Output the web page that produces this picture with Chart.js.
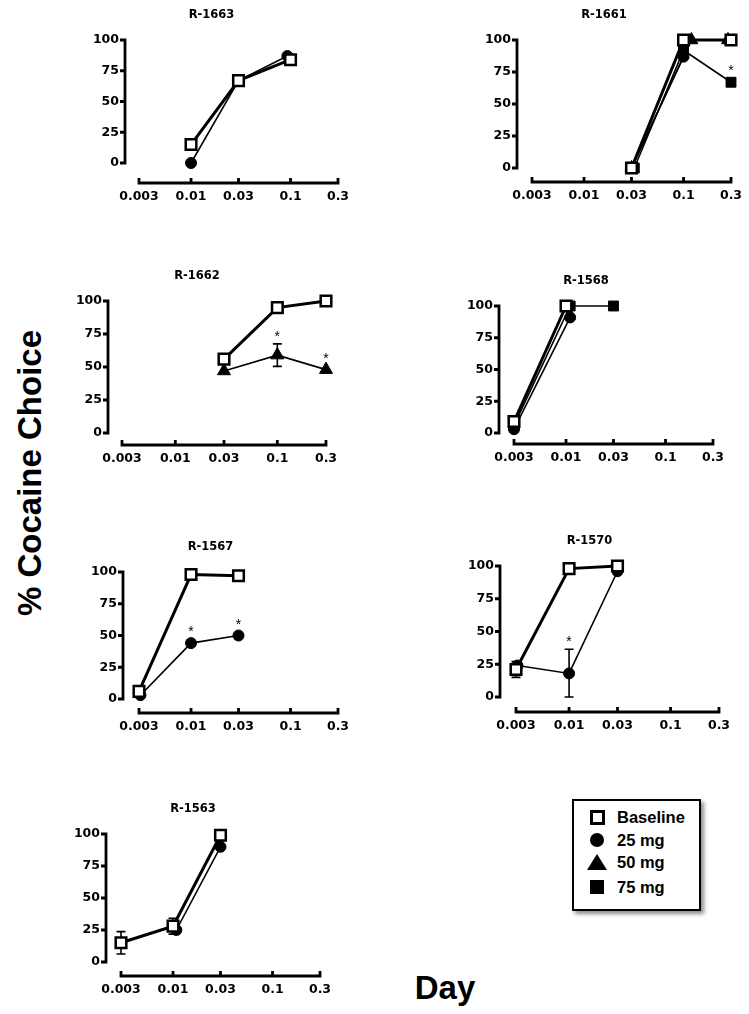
<!DOCTYPE html>
<html>
<head>
<meta charset="utf-8">
<script src="https://cdn.jsdelivr.net/npm/chart.js@4.4.0/dist/chart.umd.min.js"></script>
<style>
  body { margin: 0; background: #fff; width: 749px; height: 1014px; position: relative; overflow: hidden;
         font-family: "Liberation Sans", Arial, sans-serif; color: #000; }
  canvas { position: absolute; }
  .big { position: absolute; font-weight: bold; font-size: 33px; white-space: nowrap; }
  #ylab { left: 30px; top: 473px; transform: translate(-50%, -50%) rotate(-90deg); }
  #xlab { left: 445px; top: 988px; transform: translate(-50%, -50%); }
  #legend { position: absolute; left: 572px; top: 799px; width: 129px; height: 112px; box-sizing: border-box;
            border: 2px solid #000; background: #fff; box-shadow: 3px 3px 4px rgba(0,0,0,0.45); }
  .item { position: absolute; left: 43px; font-weight: bold; font-size: 16.5px; line-height: 18px; }
  .mk { position: absolute; box-sizing: border-box; }
</style>
</head>
<body>
<div class="big" id="ylab">% Cocaine Choice</div>
<div class="big" id="xlab">Day</div>
<div id="legend"></div>
<script>
// tick labels
const doseTicks = [0.003, 0.01, 0.03, 0.1, 0.3];
const choiceTicks = [0, 25, 50, 75, 100];
const seriesNames = ['Baseline', '25 mg', '50 mg', '75 mg'];

// R-1663
const r1663Base = [{x: 0.01, y: 15}, {x: 0.03, y: 67}, {x: 0.1, y: 84}];
const r1663BaseErr = [0, 0, 4];
const r1663Mg25 = [{x: 0.01, y: 0}, {x: 0.03, y: 67}, {x: 0.093, y: 87}];

// R-1661
const r1661Base = [{x: 0.03, y: 0}, {x: 0.1, y: 100}, {x: 0.3, y: 100}];
const r1661Mg25 = [{x: 0.03, y: 0}, {x: 0.1, y: 87}];
const r1661Mg50 = [{x: 0.03, y: 0}, {x: 0.12, y: 100}, {x: 0.28, y: 100}];
const r1661Mg75 = [{x: 0.032, y: 0}, {x: 0.1, y: 92}, {x: 0.3, y: 67}];
const r1661Mg75Stars = [0, 0, 1];

// R-1662
const r1662Base = [{x: 0.03, y: 56}, {x: 0.1, y: 95}, {x: 0.3, y: 100}];
const r1662Mg50 = [{x: 0.03, y: 47}, {x: 0.1, y: 59}, {x: 0.3, y: 48}];
const r1662Mg50Err = [0, 8.5, 0];
const r1662Mg50Stars = [0, 1, 1];

// R-1568
const r1568Base = [{x: 0.003, y: 9}, {x: 0.01, y: 100}];
const r1568Mg25 = [{x: 0.003, y: 3}, {x: 0.011, y: 91}];
const r1568Mg75 = [{x: 0.003, y: 6}, {x: 0.011, y: 100}, {x: 0.03, y: 100}];

// R-1567
const r1567Base = [{x: 0.003, y: 6}, {x: 0.01, y: 98}, {x: 0.03, y: 97}];
const r1567Mg25 = [{x: 0.0031, y: 3}, {x: 0.01, y: 44}, {x: 0.03, y: 50}];
const r1567Mg25Stars = [0, 1, 1];

// R-1570
const r1570Base = [{x: 0.003, y: 21}, {x: 0.01, y: 98}, {x: 0.03, y: 100}];
const r1570BaseErr = [6, 0, 0];
const r1570Mg25 = [{x: 0.0031, y: 24}, {x: 0.01, y: 18}, {x: 0.03, y: 96}];
const r1570Mg25Err = [0, 18.5, 0];
const r1570Mg25Stars = [0, 1, 0];

// R-1563
const r1563Base = [{x: 0.003, y: 15}, {x: 0.01, y: 28}, {x: 0.03, y: 99}];
const r1563BaseErr = [8.7, 6.2, 0];
const r1563Mg25 = [{x: 0.0108, y: 25}, {x: 0.03, y: 90}];

const AXIS_W = 40, XAXIS_H = 28, TITLE_H = 36;
const tickFont = {family: 'DejaVu Sans', weight: 'bold', size: 12.5};

function baseline(data, errs, stars) {
  return {label: seriesNames[0], data, errs, stars, borderColor: '#000', borderWidth: 3,
    pointStyle: 'rect', pointRadius: 7.5, pointBackgroundColor: '#fff', pointBorderColor: '#000', pointBorderWidth: 2.5};
}
function drug(idx, data, errs, stars) {
  const styles = ['circle', 'triangle', 'rect'];
  const radius = [5.5, 7.5, 7];
  return {label: seriesNames[idx], data, errs, stars, borderColor: '#000', borderWidth: 1.6,
    pointStyle: styles[idx - 1], pointRadius: radius[idx - 1], pointBackgroundColor: '#000',
    pointBorderColor: '#000', pointBorderWidth: 1};
}

// chart area boxes (pixels in the page): left = y axis, right = x of 0.3, top = y of 100,
// zero = y of 0, bottom = x axis line, first = x of 0.003
const panels = [
  {title: 'R-1663', box: {left: 125, right: 338, top: 40, zero: 163, bottom: 183, first: 139},
   sets: [baseline(r1663Base, r1663BaseErr), drug(1, r1663Mg25)]},
  {title: 'R-1661', box: {left: 517, right: 731, top: 40, zero: 168, bottom: 182, first: 532},
   sets: [baseline(r1661Base), drug(1, r1661Mg25), drug(2, r1661Mg50), drug(3, r1661Mg75, null, r1661Mg75Stars)]},
  {title: 'R-1662', box: {left: 108, right: 326, top: 301, zero: 433, bottom: 445, first: 122},
   sets: [baseline(r1662Base), drug(2, r1662Mg50, r1662Mg50Err, r1662Mg50Stars)]},
  {title: 'R-1568', box: {left: 499, right: 713, top: 306, zero: 433, bottom: 444, first: 514},
   sets: [baseline(r1568Base), drug(1, r1568Mg25), drug(3, r1568Mg75)]},
  {title: 'R-1567', box: {left: 123, right: 338, top: 572, zero: 699, bottom: 713, first: 139},
   sets: [baseline(r1567Base), drug(1, r1567Mg25, null, r1567Mg25Stars)]},
  {title: 'R-1570', box: {left: 500, right: 719, top: 566, zero: 697, bottom: 712, first: 516},
   sets: [baseline(r1570Base, r1570BaseErr), drug(1, r1570Mg25, r1570Mg25Err, r1570Mg25Stars)]},
  {title: 'R-1563', box: {left: 106, right: 320, top: 834, zero: 962, bottom: 976, first: 121},
   sets: [baseline(r1563Base, r1563BaseErr), drug(1, r1563Mg25)]}
];

// prism style axes that stop at the first and last tick, plus error bars and asterisks
const prismAxes = {
  id: 'prismAxes',
  beforeDatasetsDraw(chart) {
    const {ctx, chartArea, scales: {x, y}} = chart;
    ctx.save();
    ctx.strokeStyle = '#000';
    ctx.lineWidth = 2.8;
    ctx.beginPath();
    ctx.moveTo(chartArea.left, y.getPixelForValue(0) + 1.4);
    ctx.lineTo(chartArea.left, y.getPixelForValue(100) - 1.4);
    choiceTicks.forEach(v => {
      const py = y.getPixelForValue(v);
      ctx.moveTo(chartArea.left - 5, py);
      ctx.lineTo(chartArea.left, py);
    });
    ctx.moveTo(x.getPixelForValue(doseTicks[0]) - 1.4, chartArea.bottom);
    ctx.lineTo(x.getPixelForValue(doseTicks[doseTicks.length - 1]) + 1.4, chartArea.bottom);
    doseTicks.forEach(v => {
      const px = x.getPixelForValue(v);
      ctx.moveTo(px, chartArea.bottom);
      ctx.lineTo(px, chartArea.bottom - 5);
    });
    ctx.stroke();

    ctx.lineWidth = 1.6;
    chart.data.datasets.forEach(ds => {
      if (!ds.errs) return;
      ds.data.forEach((pt, i) => {
        const e = ds.errs[i];
        if (!e) return;
        const px = x.getPixelForValue(pt.x);
        const top = y.getPixelForValue(pt.y + e);
        const bot = y.getPixelForValue(Math.max(pt.y - e, 0));
        ctx.beginPath();
        ctx.moveTo(px, top); ctx.lineTo(px, bot);
        ctx.moveTo(px - 4.5, top); ctx.lineTo(px + 4.5, top);
        ctx.moveTo(px - 4.5, bot); ctx.lineTo(px + 4.5, bot);
        ctx.stroke();
      });
    });
    ctx.restore();
  },
  afterDatasetsDraw(chart) {
    const {ctx, scales: {x, y}} = chart;
    ctx.save();
    ctx.fillStyle = '#000';
    ctx.font = '14px "Liberation Sans"';
    ctx.textAlign = 'center';
    ctx.textBaseline = 'alphabetic';
    chart.data.datasets.forEach(ds => {
      if (!ds.stars) return;
      ds.data.forEach((pt, i) => {
        if (!ds.stars[i]) return;
        const e = ds.errs ? ds.errs[i] : 0;
        const py = e ? y.getPixelForValue(pt.y + e) - 11 : y.getPixelForValue(pt.y) - 15;
        ctx.fillText('*', x.getPixelForValue(pt.x), py + 8);
      });
    });
    ctx.restore();
  }
};

panels.forEach(p => {
  const b = p.box;
  const w = (b.right - b.left) + 2 * AXIS_W;
  const h = TITLE_H + (b.bottom - b.top) + XAXIS_H;
  const canvas = document.createElement('canvas');
  canvas.width = w;
  canvas.height = h;
  canvas.style.left = (b.left - AXIS_W) + 'px';
  canvas.style.top = (b.top - TITLE_H) + 'px';
  canvas.style.width = w + 'px';
  canvas.style.height = h + 'px';
  document.body.appendChild(canvas);

  const decade = (b.right - b.first) / 2;
  const xMin = doseTicks[0] / Math.pow(10, (b.first - b.left) / decade);
  const yMin = -100 * (b.bottom - b.zero) / (b.zero - b.top);

  p.sets.forEach(ds => { ds.clip = false; ds.tension = 0; ds.fill = false; });

  new Chart(canvas, {
    type: 'line',
    data: {datasets: p.sets},
    plugins: [prismAxes],
    options: {
      responsive: false,
      animation: false,
      layout: {padding: {left: 0, right: AXIS_W, top: 0, bottom: 0}},
      plugins: {
        legend: {display: false},
        tooltip: {enabled: false},
        title: {display: true, text: p.title, color: '#000',
          font: {family: 'DejaVu Sans', weight: 'bold', size: 11.5},
          padding: {top: 4, bottom: TITLE_H - 4 - 13.8}}
      },
      scales: {
        x: {
          type: 'logarithmic', min: xMin, max: 0.3,
          afterBuildTicks: s => { s.ticks = doseTicks.map(v => ({value: v})); },
          afterFit: s => { s.height = XAXIS_H; s.paddingLeft = 0; s.paddingRight = 0; },
          grid: {display: false, drawTicks: false},
          border: {display: false},
          ticks: {color: '#000', font: tickFont, padding: 6, maxRotation: 0, autoSkip: false,
            callback: v => String(v)}
        },
        y: {
          min: yMin, max: 100,
          afterBuildTicks: s => { s.ticks = choiceTicks.map(v => ({value: v})); },
          afterFit: s => { s.width = AXIS_W; s.paddingTop = 0; s.paddingBottom = 0; },
          grid: {display: false, drawTicks: false},
          border: {display: false},
          ticks: {color: '#000', font: tickFont, padding: 6}
        }
      }
    }
  });
});

// legend box
const legend = document.getElementById('legend');
const legendRows = [18, 41, 63, 88];
const marks = [
  'width:15px;height:15px;border:3px solid #000;background:#fff;',
  'width:14px;height:14px;border-radius:50%;background:#000;',
  'width:0;height:0;border-left:10px solid transparent;border-right:10px solid transparent;border-bottom:16px solid #000;',
  'width:14px;height:14px;background:#000;'
];
const markSize = [[15, 15], [14, 14], [20, 16], [14, 14]];
seriesNames.forEach((name, i) => {
  const mk = document.createElement('div');
  mk.className = 'mk';
  mk.style.cssText = marks[i] + 'left:' + (23 - markSize[i][0] / 2) + 'px;top:' + (legendRows[i] - 2 - markSize[i][1] / 2) + 'px;';
  legend.appendChild(mk);
  const lab = document.createElement('div');
  lab.className = 'item';
  lab.textContent = name;
  lab.style.top = (legendRows[i] - 2 - 9) + 'px';
  legend.appendChild(lab);
});
</script>
</body>
</html>
